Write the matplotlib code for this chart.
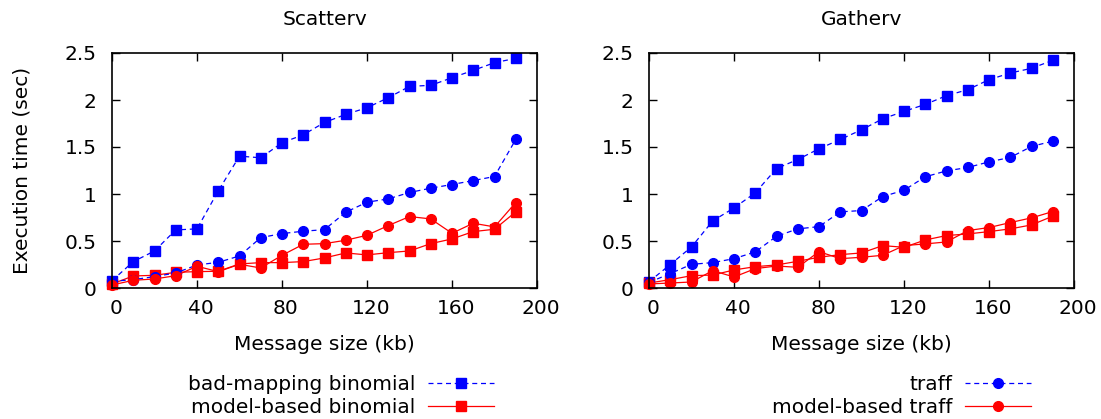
import matplotlib
matplotlib.use("Agg")
import matplotlib.pyplot as plt
import matplotlib.transforms as mtransforms
import numpy as np

# message sizes (kb)
sizes = np.arange(0, 200, 10)

# Scatterv
sc_bad_binomial = [0.078, 0.28, 0.394, 0.618, 0.629, 1.033, 1.403, 1.385, 1.545, 1.63,
                   1.761, 1.847, 1.918, 2.024, 2.145, 2.156, 2.237, 2.315, 2.397, 2.443]
sc_model_binomial = [0.043, 0.128, 0.135, 0.167, 0.174, 0.178, 0.256, 0.27, 0.27, 0.281,
                     0.32, 0.373, 0.352, 0.376, 0.394, 0.472, 0.522, 0.6, 0.625, 0.81]
sc_traff = [0.071, 0.089, 0.121, 0.16, 0.245, 0.273, 0.341, 0.536, 0.579, 0.604,
            0.621, 0.806, 0.913, 0.948, 1.016, 1.062, 1.101, 1.143, 1.186, 1.58]
sc_model_traff = [0.032, 0.082, 0.096, 0.131, 0.231, 0.174, 0.252, 0.213, 0.348, 0.465,
                  0.472, 0.508, 0.561, 0.664, 0.76, 0.735, 0.582, 0.689, 0.65, 0.909]

# Gatherv
ga_bad_binomial = [0.067, 0.249, 0.437, 0.714, 0.852, 1.012, 1.271, 1.367, 1.481, 1.58,
                   1.683, 1.8, 1.879, 1.953, 2.046, 2.11, 2.216, 2.287, 2.337, 2.422]
ga_model_binomial = [0.053, 0.089, 0.131, 0.138, 0.192, 0.227, 0.245, 0.284, 0.327, 0.355,
                     0.373, 0.451, 0.433, 0.511, 0.558, 0.575, 0.6, 0.629, 0.671, 0.764]
ga_traff = [0.06, 0.153, 0.252, 0.27, 0.312, 0.384, 0.55, 0.629, 0.653, 0.81,
            0.824, 0.973, 1.04, 1.183, 1.246, 1.282, 1.342, 1.389, 1.506, 1.562]
ga_model_traff = [0.043, 0.053, 0.064, 0.185, 0.117, 0.206, 0.234, 0.22, 0.387, 0.312,
                  0.327, 0.348, 0.451, 0.469, 0.49, 0.611, 0.643, 0.696, 0.746, 0.813]

xticks = [0, 40, 80, 120, 160, 200]
yticks = [0, 0.5, 1, 1.5, 2, 2.5]
ytick_labels = ["0", "0.5", "1", "1.5", "2", "2.5"]

plt.rcParams["font.family"] = "DejaVu Sans"
fs = 14.5

W, H = 1101, 419
fig = plt.figure(figsize=(W / 100, H / 100), dpi=100)


def px_axes(x0, y0, x1, y1):
    return fig.add_axes([x0 / W, 1 - y1 / H, (x1 - x0) / W, (y1 - y0) / H])


def draw(ax, title, bad, mb, tr, mt):
    dash = dict(color="blue", lw=0.9, dashes=(4, 3))
    solid = dict(color="red", lw=0.9)
    l1, = ax.plot(sizes, bad, marker="s", ms=7.2, label="bad-mapping binomial", **dash)
    l2, = ax.plot(sizes, mb, marker="s", ms=7.2, label="model-based binomial", **solid)
    l3, = ax.plot(sizes, tr, marker="o", ms=7, label="traff", **dash)
    l4, = ax.plot(sizes, mt, marker="o", ms=7, label="model-based traff", **solid)
    for l in (l1, l2, l3, l4):
        l.set_clip_on(False)
    ax.set_xlim(0, 200)
    ax.set_ylim(0, 2.5)
    ax.set_xticks(xticks)
    ax.set_yticks(yticks)
    ax.set_yticklabels(ytick_labels)
    ax.tick_params(direction="in", length=6, width=1, labelsize=fs,
                   top=True, right=True)
    ax.tick_params(axis="y", pad=11)
    ax.tick_params(axis="x", pad=8)
    # gnuplot puts the x tick labels a little right of the ticks
    shift = mtransforms.ScaledTranslation(4 / 100, 0, fig.dpi_scale_trans)
    for lab in ax.get_xticklabels():
        lab.set_transform(lab.get_transform() + shift)
    for s in ax.spines.values():
        s.set_linewidth(1.2)
    ax.set_title(title, fontsize=fs, pad=20)
    ax.set_xlabel("Message size (kb)", fontsize=fs, labelpad=12)
    return [l1, l2, l3, l4]


ax1 = px_axes(112, 53, 537, 288)
h1 = draw(ax1, "Scatterv", sc_bad_binomial, sc_model_binomial, sc_traff, sc_model_traff)
ax1.set_ylabel("Execution time (sec)", fontsize=fs, labelpad=24)

ax2 = px_axes(649, 53, 1074, 288)
h2 = draw(ax2, "Gatherv", ga_bad_binomial, ga_model_binomial, ga_traff, ga_model_traff)

leg_kw = dict(frameon=False, markerfirst=False, fontsize=fs, handlelength=3.3,
              labelspacing=0.2, handletextpad=0.6, borderpad=0, borderaxespad=0,
              loc="upper right")
fig.legend(h1[:2], [h.get_label() for h in h1[:2]],
           bbox_to_anchor=(494 / W, 1 - 375 / H), **leg_kw)
fig.legend([h2[2], h2[3]], [h2[2].get_label(), h2[3].get_label()],
           bbox_to_anchor=(1031 / W, 1 - 375 / H), **leg_kw)

fig.savefig("out.png", dpi=100)
